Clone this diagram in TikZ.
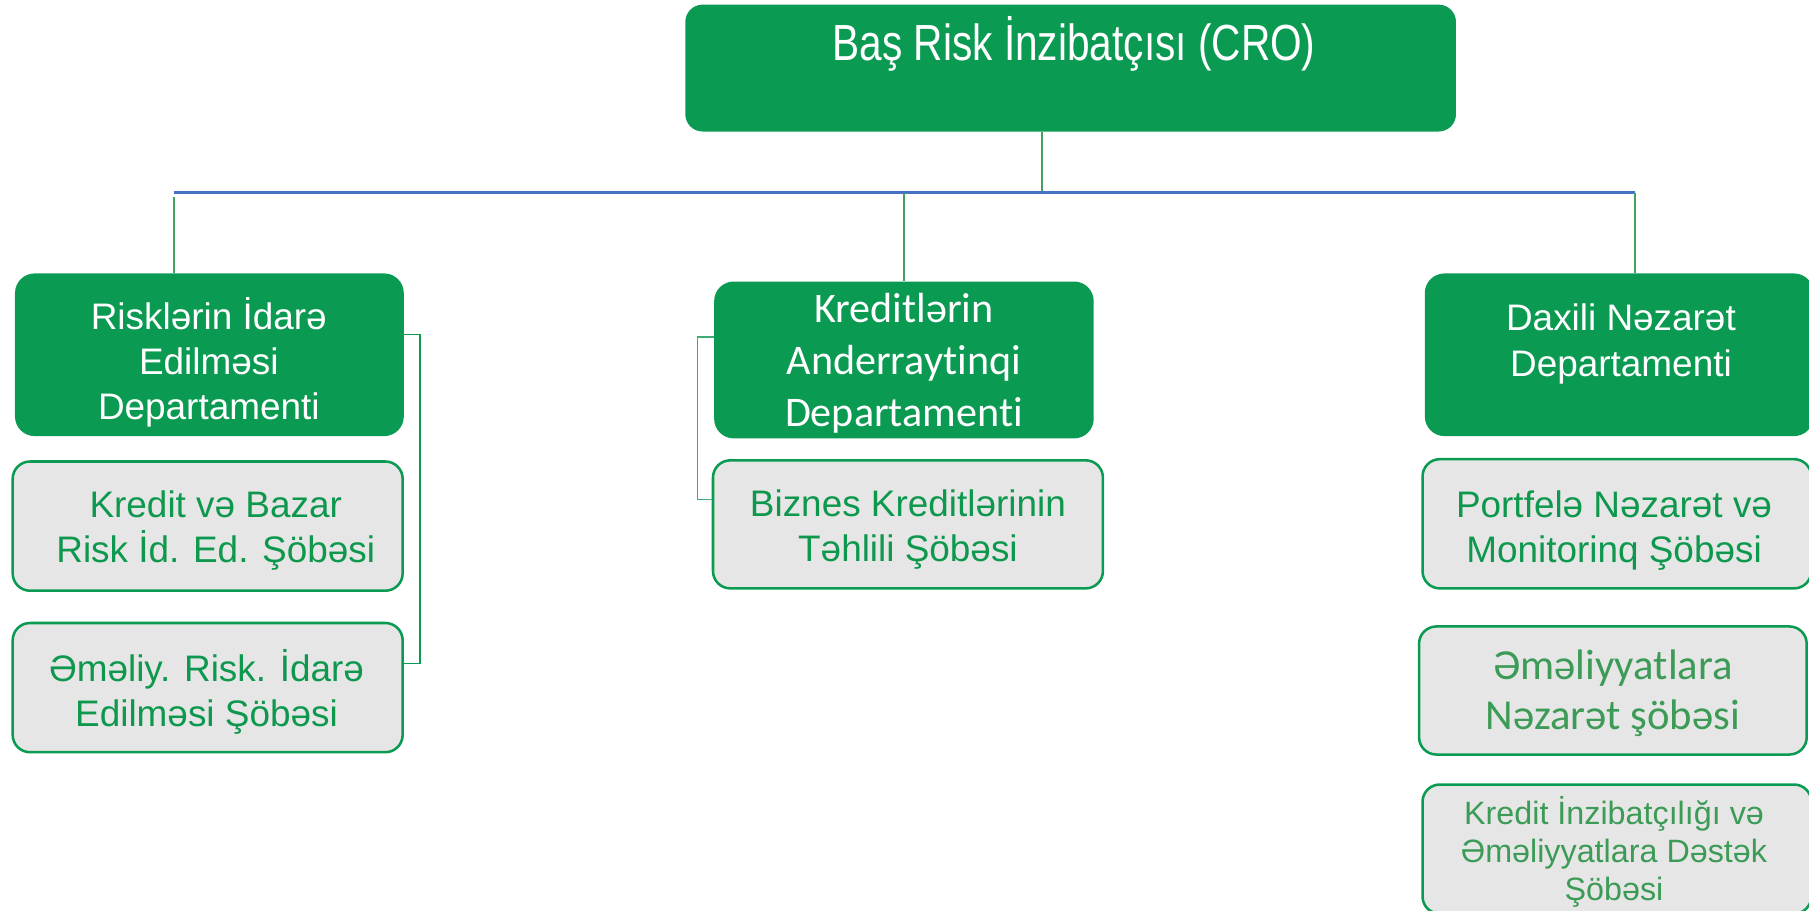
\documentclass[tikz,border=0pt]{standalone}
\usepackage{fontspec}
\setmainfont{Liberation Sans}
\newfontfamily\narrowfont[FakeStretch=0.8]{Liberation Sans}
\newfontfamily\calfont[Ligatures=NoCommon]{Carlito}
\definecolor{boxgreen}{RGB}{11,154,82}
\definecolor{subfill}{RGB}{231,230,230}
\definecolor{subtext}{RGB}{14,152,78}
\definecolor{mutedtext}{RGB}{60,155,86}
\definecolor{busblue}{RGB}{68,114,196}
\definecolor{conngreen}{RGB}{70,160,95}
\begin{document}
\begin{tikzpicture}[x=1bp,y=-1bp,
  deptbox/.style={draw=none, fill=boxgreen, rounded corners=17bp, inner sep=0pt},
  subbox/.style={draw=boxgreen, line width=2.2bp, fill=subfill, rounded corners=15bp, inner sep=0pt},
  dtext/.style={inner sep=0pt, align=center, text=white, font=\fontsize{32bp}{39bp}\selectfont},
  stext/.style={inner sep=0pt, align=center, text=subtext, font=\fontsize{32bp}{39bp}\selectfont},
  conn/.style={draw=conngreen, line width=1.3bp},
  bus/.style={draw=busblue, line width=2.2bp}]
\useasboundingbox (0,0) rectangle (1568,789);
% top box
\node[deptbox, rounded corners=15bp, minimum width=668bp, minimum height=110bp] (cro) at (928,59) {};
\node[dtext, font=\narrowfont\fontsize{44bp}{50bp}\selectfont] (crotext) at (931,38) {Baş Risk İnzibatçısı (CRO)};
% departments
\node[deptbox, minimum width=337bp, minimum height=141bp] (ld) at (181.5,307.5) {};
\node[dtext] (ldtext) at (181,314) {Risklərin İdarə\\Edilməsi\\Departamenti};
\node[deptbox, minimum width=329bp, minimum height=136bp] (md) at (783.5,312) {};
\node[dtext, font=\calfont\fontsize{36.5bp}{45bp}\selectfont] (mdtext) at (783.5,315) {Kreditlərin\\Anderraytinqi\\Departamenti};
\node[deptbox, minimum width=337bp, minimum height=141bp] (rd) at (1403.5,307.5) {};
\node[dtext, font=\fontsize{32bp}{40bp}\selectfont] (rdtext) at (1405,298) {Daxili Nəzarət\\Departamenti};
% sub units
\node[subbox, minimum width=338bp, minimum height=112bp] (ls1) at (180,456) {};
\node[stext] (ls1text) at (187,460) {Kredit və Bazar\\Risk İd. Ed. Şöbəsi};
\node[subbox, minimum width=338bp, minimum height=112bp] (ls2) at (180,596) {};
\node[stext] (ls2text) at (179,599.5) {Əməliy. Risk. İdarə\\Edilməsi Şöbəsi};
\node[subbox, minimum width=338bp, minimum height=111bp] (ms) at (787,454.5) {};
\node[stext] (mstext) at (787,459) {Biznes Kreditlərinin\\Təhlili Şöbəsi};
\node[subbox, minimum width=337bp, minimum height=112bp] (rs1) at (1401.5,454) {};
\node[stext] (rs1text) at (1399,459.5) {Portfelə Nəzarət və\\Monitorinq Şöbəsi};
\node[subbox, minimum width=336bp, minimum height=111bp] (rs2) at (1398,598.5) {};
\node[stext, text=mutedtext, font=\calfont\fontsize{37bp}{44bp}\selectfont] (rs2text) at (1398,601) {Əməliyyatlara\\Nəzarət şöbəsi};
\node[subbox, minimum width=337bp, minimum height=112bp] (rs3) at (1401.5,736) {};
\node[stext, text=mutedtext, font=\fontsize{28bp}{33bp}\selectfont] (rs3text) at (1399,738.5) {Kredit İnzibatçılığı və\\Əməliyyatlara Dəstək\\Şöbəsi};
% bus
\coordinate (busL) at (151,167);
\coordinate (busM) at (783.5,167);
\coordinate (busC) at (903,167);
\coordinate (busR) at (1417,167);
\draw[conn] (cro.south -| busC) -- (busC);
\draw[bus] (busL) -- (busR);
\draw[conn] ([yshift=-4bp]busL) -- (busL |- ld.north);
\draw[conn] (busM) -- (md.north);
\draw[conn] (busR) -- (busR |- rd.north);
% brackets
\draw[conn, draw=boxgreen, line width=1.2bp] ([yshift=17.5bp]ld.east) -- ++(14,0) |- ([yshift=21bp]ls2.east);
\draw[conn, draw=boxgreen!80!white, line width=1.2bp] ([yshift=20bp]md.west) -- ++(-14,0) |- ([yshift=21.5bp]ms.west);
\end{tikzpicture}
\end{document}
